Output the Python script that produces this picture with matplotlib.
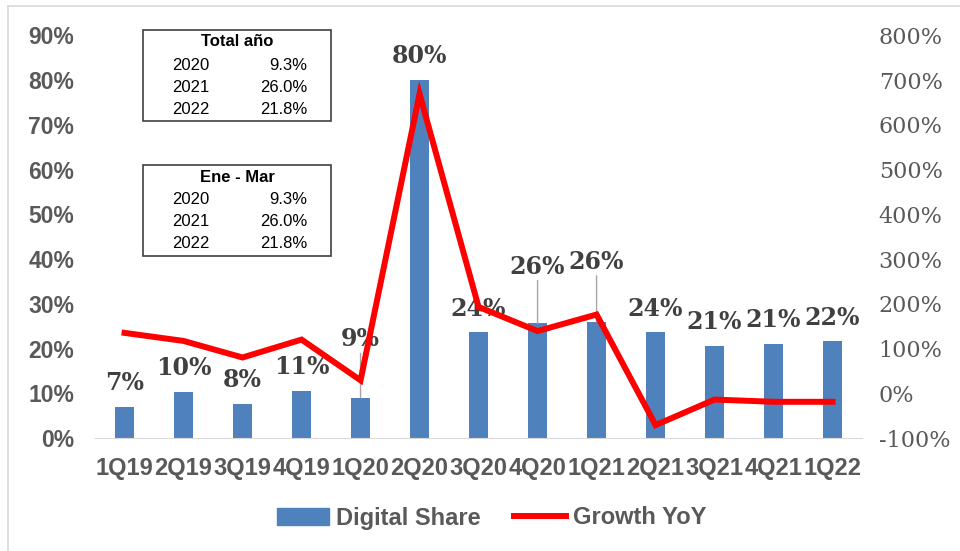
import matplotlib.pyplot as plt
from matplotlib.lines import Line2D
from matplotlib.patches import Patch, Rectangle

# Data
quarters = ["1Q19", "2Q19", "3Q19", "4Q19", "1Q20", "2Q20", "3Q20",
            "4Q20", "1Q21", "2Q21", "3Q21", "4Q21", "1Q22"]
digital_share = [7.0, 10.4, 7.6, 10.6, 9.0, 80.0, 23.6, 25.6, 26.0, 23.6, 20.6, 21.0, 21.6]
growth_yoy = [135, 117, 80, 120, 29, 669, 193, 139, 176, -71, -14, -19, -19]

table_years = ["2020", "2021", "2022"]
total_anio = ["9.3%", "26.0%", "21.8%"]
ene_mar = ["9.3%", "26.0%", "21.8%"]

blue = "#4F81BD"
red = "#FF0000"
gray = "#595959"
label_gray = "#404040"

fig = plt.figure(figsize=(9.6, 5.51), dpi=100)
ax = fig.add_axes([0.099, 0.205, 0.799, 0.731])
ax2 = ax.twinx()

x = list(range(len(quarters)))
ax.bar(x, digital_share, width=0.31, color=blue, zorder=2)
ax2.plot(x, growth_yoy, color=red, lw=4.3, solid_joinstyle="miter", zorder=3)

ax.set_xlim(-0.5, len(quarters) - 0.5)
ax.set_ylim(0, 90)
ax2.set_ylim(-100, 800)
ax.set_yticks(range(0, 91, 10))
ax.set_yticklabels([f"{v}%" for v in range(0, 91, 10)],
                   fontfamily="Liberation Sans", fontweight="bold", fontsize=16.5, color=gray)
ax2.set_yticks(range(-100, 801, 100))
ax2.set_yticklabels([f"{v}%" for v in range(-100, 801, 100)],
                    fontfamily="DejaVu Serif", fontsize=16, color=gray)
ax.set_xticks(x)
ax.set_xticklabels(quarters, fontfamily="Liberation Sans", fontweight="bold",
                   fontsize=17, color=gray)

ax.tick_params(axis="both", length=0)
ax2.tick_params(axis="both", length=0)
ax.tick_params(axis="x", pad=14)
ax.tick_params(axis="y", pad=15)
ax2.tick_params(axis="y", pad=12)
for a in (ax, ax2):
    for s in ("top", "left", "right"):
        a.spines[s].set_visible(False)
    a.spines["bottom"].set_color("#d9d9d9")
ax2.spines["bottom"].set_visible(False)
ax2.set_zorder(ax.get_zorder() + 1)
ax2.patch.set_visible(False)

# data labels (offset in points from bar top to label centre; some with leader lines)
offsets = {4: 42, 7: 41, 8: 43}
for i, v in enumerate(digital_share):
    off = offsets.get(i, 17)
    ax.annotate(f"{v:.0f}%", (i, v), xytext=(0, off), textcoords="offset points",
                ha="center", va="center", fontfamily="DejaVu Serif", fontweight="bold",
                fontsize=17, color=label_gray, zorder=5)
    if i in offsets:
        ax.annotate("", (i, v), xytext=(0, off - 10), textcoords="offset points",
                    arrowprops=dict(arrowstyle="-", color="#a6a6a6", lw=1,
                                    shrinkA=0, shrinkB=0))

# the two small tables
def draw_table(top, title, vals):
    fx0, fx1 = 143 / 960, 331 / 960
    fy_top = 1 - top / 551
    h = 91 / 551
    fig.add_artist(Rectangle((fx0, fy_top - h), fx1 - fx0, h, transform=fig.transFigure,
                             fill=False, ec="#404040", lw=1.2))
    fig.text(237 / 960, 1 - (top + 12) / 551, title, ha="center", va="center",
             fontfamily="Liberation Sans", fontweight="bold", fontsize=12, color="black")
    for k, (yr, val) in enumerate(zip(table_years, vals)):
        yy = 1 - (top + 35 + 22 * k) / 551
        fig.text(191 / 960, yy, yr, ha="center", va="center",
                 fontfamily="Liberation Sans", fontsize=12, color="black")
        fig.text(307 / 960, yy, val, ha="right", va="center",
                 fontfamily="Liberation Sans", fontsize=12, color="black")

draw_table(30, "Total año", total_anio)
draw_table(165, "Ene - Mar", ene_mar)

# legend
handles = [Patch(color=blue, label="Digital Share"),
           Line2D([0], [0], color=red, lw=4.3, label="Growth YoY")]
fig.legend(handles=handles, loc="center", bbox_to_anchor=(0.5 + 12 / 960, 1 - 518 / 551),
           ncol=2, frameon=False, handlelength=2.2, handleheight=0.7, columnspacing=1.4,
           handletextpad=0.3,
           prop={"family": "Liberation Sans", "weight": "bold", "size": 17},
           labelcolor=gray)

# outer border lines (top and left visible in reference)
fig.add_artist(Line2D([8 / 960, 1], [1 - 6 / 551, 1 - 6 / 551], transform=fig.transFigure,
                      color="#d9d9d9", lw=1.2))
fig.add_artist(Line2D([8 / 960, 8 / 960], [0, 1 - 6 / 551], transform=fig.transFigure,
                      color="#d9d9d9", lw=1.2))

fig.savefig("out.png", dpi=100)
